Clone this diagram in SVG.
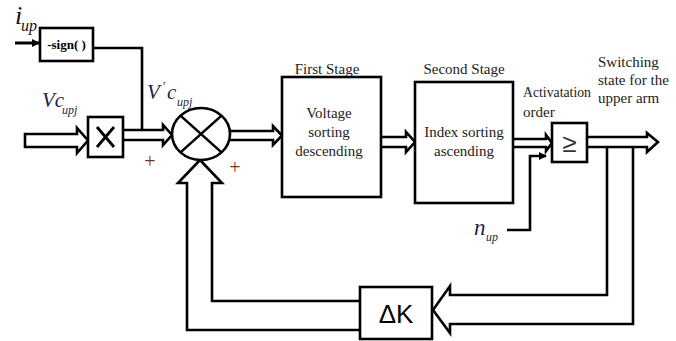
<svg xmlns="http://www.w3.org/2000/svg" width="676" height="341" viewBox="0 0 676 341">
<style>
.b{fill:#fff;stroke:#000;stroke-width:2.6}
.l{fill:none;stroke:#000;stroke-width:2.6;stroke-linejoin:miter}
.a{fill:#fff;stroke:#000;stroke-width:2.6;stroke-linejoin:miter}
.t{font-family:"Liberation Serif",serif;fill:#222;font-size:15px}
.m{font-family:"Liberation Serif",serif;font-style:italic;fill:#1f1f4a}
.p{font-family:"Liberation Serif",serif;fill:#8b2a1a;font-size:20px}
</style>
<defs>
<marker id="ah" markerWidth="8" markerHeight="8" refX="7" refY="4" orient="auto" markerUnits="userSpaceOnUse">
<path d="M0,0 L8,4 L0,8 z" fill="#000"/>
</marker>
</defs>
<rect width="676" height="341" fill="#fff"/>

<g id="connectors">
<line x1="15" y1="43" x2="39" y2="43" stroke="#000" stroke-width="3" marker-end="url(#ah)"/>
<polyline class="l" points="93,48 142,48 142,130"/>
<polygon class="a" points="25,134 77,134 77,128 88,140.5 77,153 77,147 25,147"/>
<polyline class="a" points="123,130 163,130 163,125 172,135 163,145 163,140 123,140"/>
<polyline class="a" points="230,131 273,131 273,126 282,135.5 273,145 273,140 230,140"/>
<polyline class="a" points="381,137 406,137 406,132 415,142 406,152 406,147 381,147"/>
<polyline class="a" points="513,139 546,139 546,135 552,143 546,151 546,147 513,147"/>
<polyline class="l" points="507,230 530,230 530,156 546,156" stroke-width="4" marker-end="url(#ah)"/>
<polyline class="a" points="587,137 647,137 647,133 658,142 647,152 647,147 587,147"/>
<polyline class="l" points="607,147 607,295 450,295 450,286 433,310 450,333 450,324 633,324 633,147"/>
<polyline class="l" points="360,301 212,301 212,183 222,183 200,160 178,183 187,183 187,330 360,330"/>
</g>

<g id="i_up">
<text class="m" x="15" y="24" font-size="26" style="fill:#111">i</text>
<text class="m" x="21" y="31" font-size="16" style="fill:#111">up</text>
</g>

<g id="sign">
<rect class="b" x="40" y="28" width="53" height="33"/>
<text x="66.5" y="49" text-anchor="middle" font-family="Liberation Serif,serif" font-weight="bold" font-size="13">-sign( )</text>
</g>

<g id="vc_label">
<text class="m" x="42" y="107" font-size="21">Vc</text>
<text class="m" x="62" y="114" font-size="12">upj</text>
</g>

<g id="mult">
<rect class="b" x="88" y="117" width="35" height="40"/>
<path d="M97,127 L114,147 M114,127 L97,147" stroke="#000" stroke-width="2.8"/>
</g>

<g id="vpc_label">
<text class="m" x="147" y="99" font-size="21">V</text>
<text class="m" x="162" y="90" font-size="13">'</text>
<text class="m" x="167" y="99" font-size="21">c</text>
<text class="m" x="177" y="106" font-size="12">upj</text>
</g>

<g id="sum">
<ellipse class="b" cx="201" cy="134" rx="29" ry="26"/>
<path d="M180.5,115.6 L221.5,152.4 M221.5,115.6 L180.5,152.4" stroke="#000" stroke-width="2.6"/>
<text class="p" x="150" y="168" text-anchor="middle">+</text>
<text class="p" x="235" y="174" text-anchor="middle">+</text>
</g>

<g id="first">
<text class="t" x="327" y="74" text-anchor="middle" font-size="14">First Stage</text>
<rect class="b" x="282" y="77" width="99" height="120"/>
<text class="t" x="329" y="118" text-anchor="middle">Voltage</text>
<text class="t" x="329" y="137" text-anchor="middle">sorting</text>
<text class="t" x="329" y="156" text-anchor="middle">descending</text>
</g>

<g id="second">
<text class="t" x="464" y="74" text-anchor="middle" font-size="14">Second Stage</text>
<rect class="b" x="415" y="82" width="98" height="121"/>
<text class="t" x="464" y="137" text-anchor="middle">Index sorting</text>
<text class="t" x="464" y="156" text-anchor="middle">ascending</text>
</g>

<g id="activ">
<text class="t" x="523" y="97" font-size="14" textLength="68" lengthAdjust="spacingAndGlyphs">Activatation</text>
<text class="t" x="523" y="117" font-size="14">order</text>
</g>

<g id="compare">
<rect class="b" x="552" y="123" width="35" height="39"/>
<text x="569.5" y="152" text-anchor="middle" font-family="DejaVu Sans,sans-serif" font-weight="300" font-size="26" fill="#333">≥</text>
</g>

<g id="nup">
<text class="m" x="474" y="235" font-size="23">n</text>
<text class="m" x="486" y="241" font-size="12">up</text>
</g>

<g id="switch">
<text class="t" x="598" y="67" font-size="14">Switching</text>
<text class="t" x="598" y="85" font-size="14">state for the</text>
<text class="t" x="598" y="103" font-size="14">upper arm</text>
</g>

<g id="dk">
<rect class="b" x="360" y="287" width="72" height="52"/>
<text x="396" y="323" text-anchor="middle" font-family="Liberation Sans,sans-serif" font-size="26">ΔK</text>
</g>
</svg>
